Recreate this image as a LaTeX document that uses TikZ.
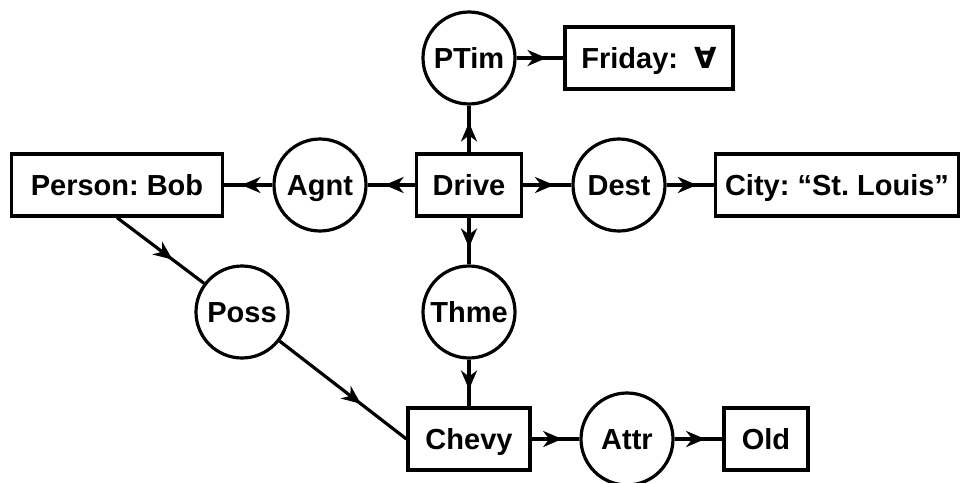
\documentclass[tikz,border=0pt]{standalone}
\usepackage{fontspec}
\setmainfont{Liberation Sans}
\newfontfamily\symfont{DejaVu Sans}
\usetikzlibrary{arrows.meta,decorations.markings}
\frenchspacing

\begin{document}
\begin{tikzpicture}[x=1pt, y=-1pt,
    every node/.style={font=\fontsize{29}{34}\selectfont\bfseries, text height=21pt, text depth=0pt},
    relation/.style={shape=circle, draw=black, line width=3.2pt, minimum size=92pt, inner sep=0pt},
    concept/.style={shape=rectangle, draw=black, line width=3.2pt, minimum height=62pt, inner sep=0pt},
    link/.style={line width=3.2pt, decoration={markings,
        mark=at position 0.64 with {\arrow{Stealth[length=19pt,width=16pt,inset=6pt]}}},
        postaction={decorate}}]
    \useasboundingbox (0,0) rectangle (963,482);
    % concepts and relations
    \node[relation] (ptim) at (469,58) {PTim};
    \node[concept, minimum width=168pt] (friday) at (649,58) {Friday:~~{\symfont ∀}};
    \node[concept, minimum width=211pt] (bob) at (117,185) {Person: Bob};
    \node[relation] (agnt) at (320,185) {Agnt};
    \node[concept, minimum width=105pt] (drive) at (469,185) {Drive};
    \node[relation] (dest) at (619,185) {Dest};
    \node[concept, minimum width=243pt] (city) at (837,185) {City: ``St. Louis''};
    \node[relation] (poss) at (242,312) {Poss};
    \node[relation] (thme) at (469,312) {Thme};
    \node[concept, minimum width=122pt] (chevy) at (469,439) {Chevy};
    \node[relation] (attr) at (627,439) {Attr};
    \node[concept, minimum width=84pt] (old) at (766,439) {Old};
    % arcs
    \draw[link] (drive) -- (ptim);
    \draw[link] (ptim) -- (friday);
    \draw[link] (drive) -- (agnt);
    \draw[link] (agnt) -- (bob);
    \draw[link] (drive) -- (dest);
    \draw[link] (dest) -- (city);
    \draw[link] (drive) -- (thme);
    \draw[link] (thme) -- (chevy);
    \draw[link] (bob.south) -- (poss);
    \draw[link] (poss) -- (chevy.west);
    \draw[link] (chevy) -- (attr);
    \draw[link] (attr) -- (old);
\end{tikzpicture}
\end{document}
